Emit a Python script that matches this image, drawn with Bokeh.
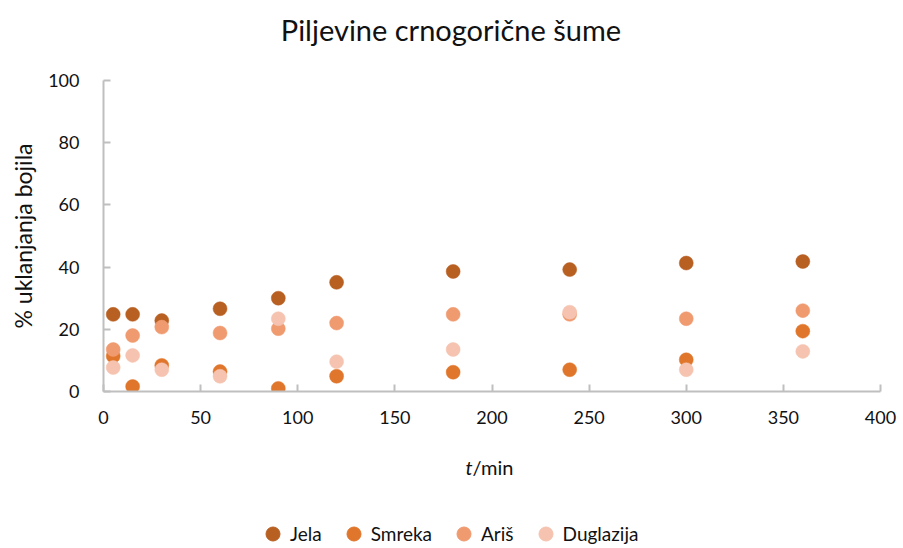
from bokeh.plotting import figure
from bokeh.layouts import column
from bokeh.models import Legend, LegendItem, Range1d, FixedTicker, Label
from bokeh.embed import file_html
from bokeh.resources import INLINE

time_min = [5, 15, 30, 60, 90, 120, 180, 240, 300, 360]
jela = [24.8, 24.8, 22.8, 26.6, 30.0, 35.1, 38.6, 39.2, 41.3, 41.8]
smreka = [11.4, 1.6, 8.4, 6.4, 1.0, 4.9, 6.2, 7.0, 10.2, 19.4]
aris = [13.5, 18.0, 20.7, 18.8, 20.2, 22.0, 24.8, 24.8, 23.4, 26.0]
duglazija = [7.7, 11.6, 7.0, 4.9, 23.4, 9.6, 13.5, 25.5, 7.0, 12.9]

series_names = ["Jela", "Smreka", "Ariš", "Duglazija"]
series_values = [jela, smreka, aris, duglazija]
colors = ["#B85F22", "#E0762B", "#F09A70", "#F5C3AF"]

x_ticks = [0, 50, 100, 150, 200, 250, 300, 350, 400]
y_ticks = [0, 20, 40, 60, 80, 100]

title_text = "Piljevine crnogorične šume"
y_label = "% uklanjanja bojila"

FONT = "Lato"
TXT = "#111111"
W = 903
LEFT, RIGHT = 103, 23


def blank(height):
    # strip whose frame lines up with the chart frame; x in page pixels
    f = figure(width=W, height=height, output_backend="svg", toolbar_location=None,
               x_range=Range1d(LEFT, W - RIGHT), y_range=Range1d(0, height),
               x_axis_location=None, y_axis_location=None,
               min_border_left=LEFT, min_border_right=RIGHT, min_border_top=0, min_border_bottom=0)
    f.outline_line_color = None
    f.grid.visible = False
    return f


# --- title strip
h = blank(60)
h.add_layout(Label(x=450.5, y=31, text=title_text, text_align="center", text_baseline="middle",
                   text_font=FONT, text_font_size="29px", text_color=TXT))

# --- main chart
p = figure(frame_width=W - LEFT - RIGHT, frame_height=311, output_backend="svg", toolbar_location=None,
           x_range=Range1d(0, 400), y_range=Range1d(0, 100),
           min_border_left=LEFT, min_border_right=RIGHT, min_border_top=20, min_border_bottom=45)
p.outline_line_color = None
p.xgrid.visible = False
p.ygrid.visible = False

for ax, ticks in ((p.xaxis[0], x_ticks), (p.yaxis[0], y_ticks)):
    ax.ticker = FixedTicker(ticks=ticks)
    ax.minor_tick_line_color = None
    ax.major_tick_in = 7
    ax.major_tick_out = 0
    ax.axis_line_color = "#BFBFBF"
    ax.axis_line_width = 2
    ax.major_tick_line_color = "#BFBFBF"
    ax.major_tick_line_width = 2
    ax.major_label_text_font = FONT
    ax.major_label_text_font_size = "18px"
    ax.major_label_text_color = TXT
    ax.axis_label_text_font = FONT
    ax.axis_label_text_font_style = "normal"
    ax.axis_label_text_color = TXT

p.xaxis.major_label_standoff = 19
p.yaxis.major_label_standoff = 24
p.yaxis.axis_label = y_label
p.yaxis.axis_label_text_font_size = "23px"
p.yaxis.axis_label_standoff = 8

for name, vals, col in zip(series_names, series_values, colors):
    p.scatter(time_min, vals, size=14, fill_color=col, line_color=col, line_width=0.5)

# --- x-axis title and legend strip
q = blank(112)
q.add_layout(Label(x=472, y=82, text="t", text_align="right", text_baseline="middle",
                   text_font=FONT, text_font_style="italic", text_font_size="20px", text_color=TXT))
q.add_layout(Label(x=472, y=82, text="/min", text_align="left", text_baseline="middle",
                   text_font=FONT, text_font_size="20px", text_color=TXT))

items = []
for name, vals, col in zip(series_names, series_values, colors):
    # hidden copy of the series, used only to draw the legend swatch
    r = q.scatter(time_min, vals, size=14, fill_color=col, line_color=col, visible=False)
    items.append(LegendItem(label=name, renderers=[r]))

legend = Legend(items=items, orientation="horizontal", location=(255 - LEFT, -3),
                glyph_width=35, glyph_height=35, label_standoff=0, spacing=14,
                padding=0, margin=0, border_line_alpha=0, background_fill_alpha=0,
                inactive_fill_alpha=0,
                label_text_font=FONT, label_text_font_size="19px", label_text_color=TXT,
                label_text_baseline="middle")
q.add_layout(legend, "center")

layout = column(h, p, q, spacing=0)
open("out.html", "w").write(file_html(layout, INLINE))
